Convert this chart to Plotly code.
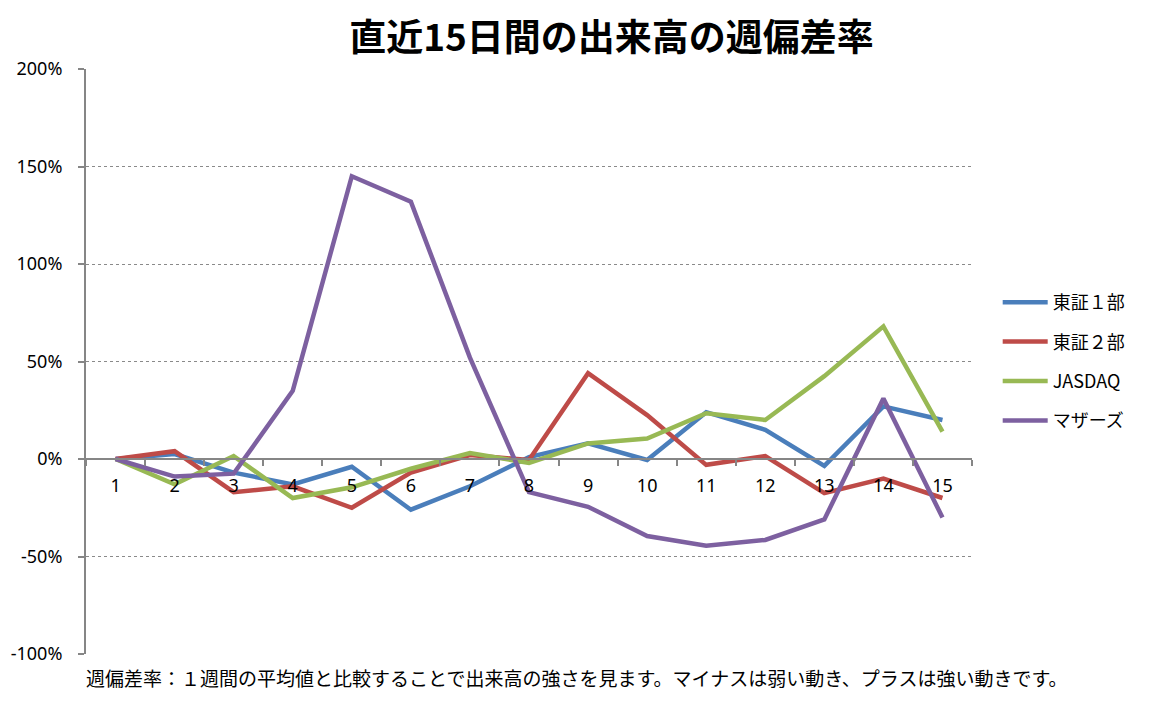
import plotly.graph_objects as go

# 日付インデックス（直近15日）
days = [str(i) for i in range(1, 16)]

# 週偏差率（%）
tse1 = [0, 2.5, -7, -13, -4, -26, -14, 1, 8, -0.5, 24, 15, -3.5, 27, 20]
tse2 = [0, 4, -17, -14, -25, -7, 2, -0.5, 44, 22.5, -3, 1.5, -17.5, -10, -20]
jasdaq = [0, -13, 1.5, -20, -14.5, -5, 3, -2, 8, 10.5, 23.5, 20, 42.5, 68, 14]
mothers = [0, -9, -7.5, 35, 145, 132, 52, -17, -24.5, -39.5, -44.5, -41.5, -31, 31, -30]

series_names = ["東証１部", "東証２部", "JASDAQ", "マザーズ"]
series_values = [tse1, tse2, jasdaq, mothers]
colors = ["#4A7EBB", "#BE4B48", "#98B954", "#7D60A0"]

y_ticks = [-100, -50, 0, 50, 100, 150, 200]
y_labels = [f"{v}%" for v in y_ticks]

font_jp = "Noto Sans CJK JP"
font_num = "Noto Sans"

fig = go.Figure()
for name, vals, col in zip(series_names, series_values, colors):
    fig.add_trace(go.Scatter(
        x=days, y=[v / 100 for v in vals], name=name, mode="lines",
        legendgroup=name,
        line=dict(color=col, width=4.5),
    ))

# ページ本体の余白(8px)ぶんを差し引いたサイズ
fig.update_layout(
    width=1143, height=694,
    paper_bgcolor="white", plot_bgcolor="white",
    margin=dict(l=78, r=179, t=61, b=48),
    title=dict(
        text="<b>直近15日間の出来高の週偏差率</b>",
        x=0.528, xanchor="center", y=0.957, yanchor="middle",
        font=dict(family=font_jp, size=37, color="black"),
    ),
    font=dict(family=font_jp, size=16, color="black"),
    legend=dict(
        x=1.029, y=0.5, xanchor="left", yanchor="middle",
        font=dict(family=font_jp, size=18), tracegroupgap=13,
        itemwidth=45,
    ),
    xaxis=dict(
        type="category", anchor="free", position=1 / 3,
        showline=True, linecolor="#868686", linewidth=2,
        ticks="outside", tickson="boundaries", ticklen=6,
        tickcolor="#868686", tickwidth=2, ticklabelstandoff=10,
        showgrid=False, zeroline=False, automargin=False,
        tickfont=dict(family=font_num, size=18),
        range=[-0.5, 14.5],
    ),
    yaxis=dict(
        range=[-1, 2],
        tickvals=[v / 100 for v in y_ticks], ticktext=y_labels,
        showline=True, linecolor="#868686", linewidth=2,
        ticks="outside", ticklen=6, tickcolor="#868686", tickwidth=2,
        ticklabelstandoff=12, automargin=False,
        showgrid=True, gridcolor="#8a8a8a", griddash="dot", gridwidth=1,
        zeroline=False,
        tickfont=dict(family=font_num, size=18),
    ),
)

fig.add_annotation(
    text="週偏差率：１週間の平均値と比較することで出来高の強さを見ます。マイナスは弱い動き、プラスは強い動きです。",
    xref="paper", yref="paper", x=-0.002, y=-0.041, xanchor="left", yanchor="middle",
    showarrow=False, font=dict(family=font_jp, size=19, color="black"),
)

fig.write_html("out.html")
